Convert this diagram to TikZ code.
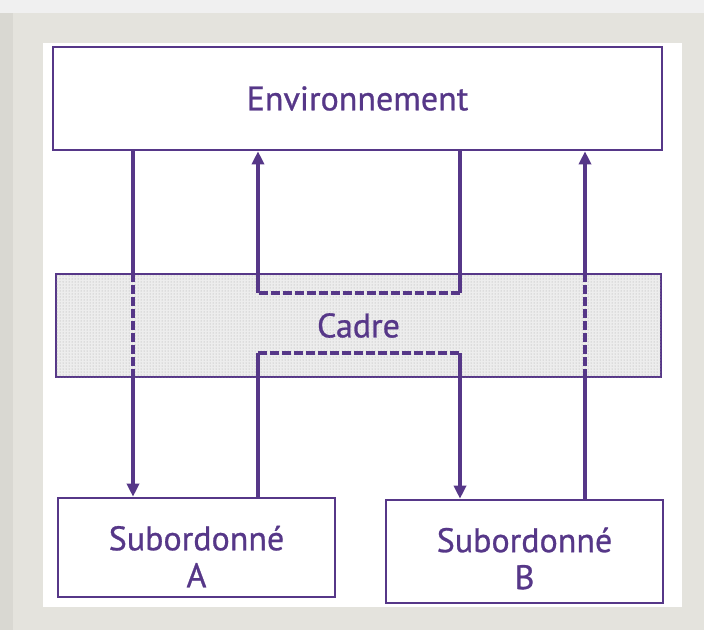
\documentclass[tikz,border=0pt]{standalone}
\usepackage{fontspec}
\setmainfont{PT Sans}
\newfontfamily\lblfont{PT Sans}[FakeBold=0.8]
\usetikzlibrary{arrows.meta,patterns}
\definecolor{ink}{HTML}{563788}
\definecolor{mat}{HTML}{E4E3DD}
\definecolor{backdrop}{HTML}{D9D8D2}

\begin{document}
\begin{tikzpicture}[
    x=1pt, y=-1pt,
    box/.style={
        draw=ink,
        line width=2.6pt,
        fill=white,
        inner sep=0pt
    },
    lbl/.style={
        text=ink,
        align=center,
        font=\lblfont\fontsize{34}{37}\selectfont
    },
    link/.style={draw=ink, line width=4pt},
    gap/.style={draw=ink, line width=4pt, dash pattern=on 9pt off 3pt},
    tip/.style={-{Triangle[length=13pt,width=12pt]}}
]

\useasboundingbox (0,0) rectangle (704,630);

% Mount and shadow
\fill[backdrop] (0,0) rectangle (704,630);
\fill[black!6] (0,0) rectangle (704,13);
\fill[mat] (13,13) rectangle (704,630);
\fill[white] (43,43) rectangle (682,607);

% Boxes
\node[box, minimum width=609pt, minimum height=103pt] (env) at (357.5,98.5) {};
\node[box, minimum width=605pt, minimum height=103pt, fill=black!7,
      postaction={pattern=dots, pattern color=black!35}] (cadre) at (358.5,325.5) {};
\node[box, minimum width=277pt, minimum height=99pt] (subA) at (196.5,547.5) {};
\node[box, minimum width=277pt, minimum height=103pt] (subB) at (524.5,551.5) {};

% Labels
\node[lbl] (envtxt) at (env.center) {Environnement};
\node[lbl] (cadretxt) at (cadre.center) {Cadre};
\node[lbl] (subAtxt) at ([yshift=-9pt]subA.center) {Subordonné\\A};
\node[lbl] (subBtxt) at ([yshift=-7pt]subB.center) {Subordonné\\B};

% Columns
\coordinate (c1) at (133,0);
\coordinate (c2) at (258,0);
\coordinate (c3) at (460,0);
\coordinate (c4) at (585,0);
\coordinate (top) at (0,293);
\coordinate (bot) at (0,353);

% Environnement -> Subordonne A
\draw[link] (env.south -| c1) -- (cadre.north -| c1);
\draw[gap] (cadre.north -| c1) -- (cadre.south -| c1);
\draw[link, tip] (cadre.south -| c1) -- (subA.north -| c1);

% Subordonne B -> Environnement
\draw[link] (subB.north -| c4) -- (cadre.south -| c4);
\draw[gap] (cadre.south -| c4) -- (cadre.north -| c4);
\draw[link, tip] (cadre.north -| c4) -- (env.south -| c4);

% Environnement -> Cadre -> Environnement
\draw[link] (env.south -| c3) -- (top -| c3);
\draw[gap] (top -| c3) -- (top -| c2);
\draw[link, tip] (top -| c2) -- (env.south -| c2);

% Subordonne A -> Cadre -> Subordonne B
\draw[link] (subA.north -| c2) -- (bot -| c2);
\draw[gap] (bot -| c2) -- (bot -| c3);
\draw[link, tip] (bot -| c3) -- (subB.north -| c3);

\end{tikzpicture}
\end{document}
